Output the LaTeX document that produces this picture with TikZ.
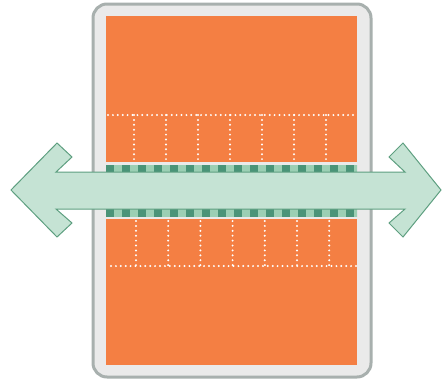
\documentclass[tikz,border=0pt]{standalone}
\definecolor{casefill}{HTML}{EAEAEA}
\definecolor{caseline}{HTML}{A8B0AE}
\definecolor{slab}{HTML}{F47F43}
\definecolor{stripedark}{HTML}{4A9478}
\definecolor{stripelight}{HTML}{9BCFB4}
\definecolor{arrowfill}{HTML}{C5E3D4}
\definecolor{arrowline}{HTML}{5E9F80}
\tikzset{
  dotline/.style={white,line width=2.2pt,line cap=round,dash pattern=on 0pt off 4.9pt},
  slabbox/.style={fill=slab},
}
\begin{document}
\begin{tikzpicture}[x=1pt,y=-1pt]
      \useasboundingbox (0,0) rectangle (442,381);
      % case
      \draw[fill=casefill,draw=caseline,line width=3pt,rounded corners=14pt]
        (93,4) rectangle (371,377);
      % slabs
      \fill[slabbox] (106,16) rectangle (357,162);
      \fill[slabbox] (106,219) rectangle (357,365);
      % striped band
      \begin{scope}
        \clip (106,165) rectangle (357,217);
        \foreach \i in {0,...,31} {
          \fill[stripedark] (106+16*\i,165) rectangle +(8,52);
          \fill[stripelight] (114+16*\i,165) rectangle +(8,52);
        }
      \end{scope}
      % dotted grid
      \draw[dotline] (108,115) -- (356,115);
      \draw[dotline] (111,266) -- (356,266);
      \foreach \x in {0,...,6} {
        \draw[dotline] (134+32*\x,115) -- (134+32*\x,160);
        \draw[dotline] (136+32.2*\x,221) -- (136+32.2*\x,266);
      }
      % double arrow
      \draw[fill=arrowfill,draw=arrowline,line width=1pt,line join=miter]
        (11,190) -- (57,143) -- (72,157) -- (56,172) -- (405,172)
        -- (389,157) -- (403,143) -- (441,190) -- (403,237) -- (389,223)
        -- (405,209) -- (56,209) -- (72,223) -- (57,237) -- cycle;
    \end{tikzpicture}
\end{document}
